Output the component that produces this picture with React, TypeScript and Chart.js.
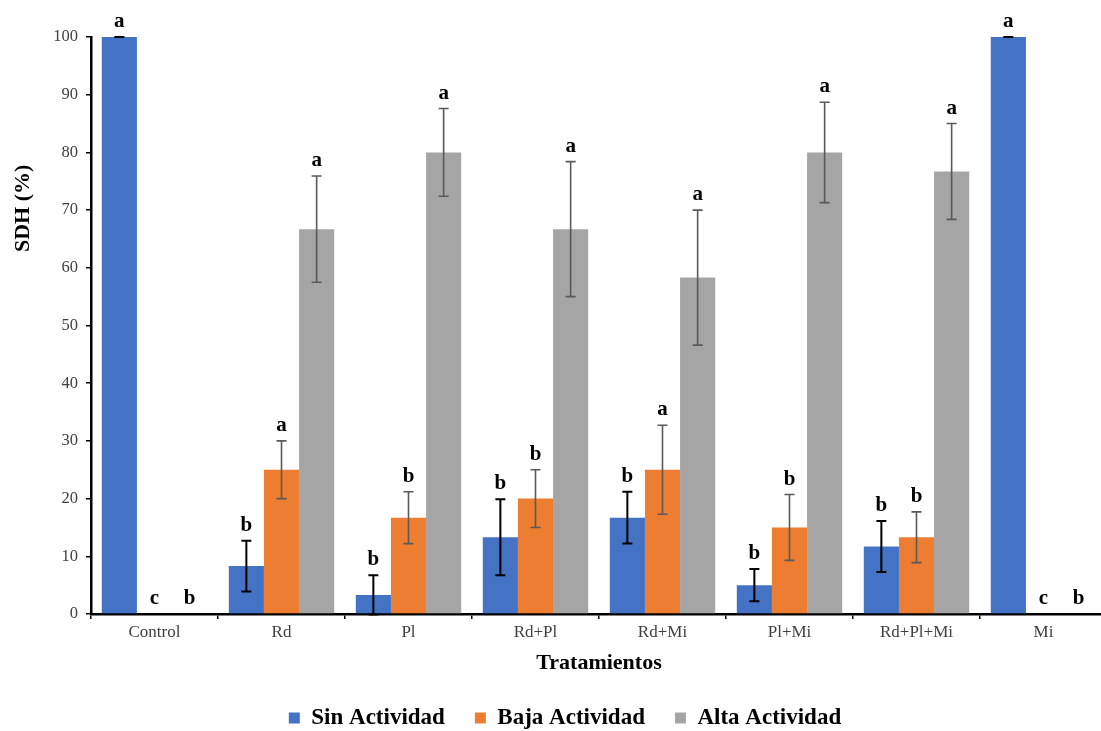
import React, { useEffect, useRef } from "react";
import { Chart, registerables } from "chart.js";

Chart.register(...registerables);

const categories = ["Control", "Rd", "Pl", "Rd+Pl", "Rd+Mi", "Pl+Mi", "Rd+Pl+Mi", "Mi"];
const seriesNames = ["Sin Actividad", "Baja Actividad", "Alta Actividad"];
const sinActividad = [100, 8.3, 3.3, 13.3, 16.7, 5.0, 11.7, 100];
const bajaActividad = [0, 25.0, 16.7, 20.0, 25.0, 15.0, 13.3, 0];
const altaActividad = [0, 66.7, 80.0, 66.7, 58.3, 80.0, 76.7, 0];
const sinError = [0, 4.4, 3.4, 6.6, 4.5, 2.8, 4.4, 0];
const bajaError = [null, 5.0, 4.5, 5.0, 7.7, 5.7, 4.4, null];
const altaError = [null, 9.2, 7.6, 11.7, 11.7, 8.7, 8.3, null];
const sinLetters = ["a", "b", "b", "b", "b", "b", "b", "a"];
const bajaLetters = ["c", "a", "b", "b", "a", "b", "b", "c"];
const altaLetters = ["b", "a", "a", "a", "a", "a", "a", "b"];
const yMin = 0;
const yMax = 100;
const yStep = 10;
const yTitle = "SDH (%)";
const xTitle = "Tratamientos";

const colors = ["#4472C4", "#ED7D31", "#A5A5A5"];
const errColors = ["#000000", "#595959", "#595959"];
const FONT = "'Liberation Serif', 'Times New Roman', serif";

const errorsBySeries = [sinError, bajaError, altaError];
const lettersBySeries = [sinLetters, bajaLetters, altaLetters];

const errorBarPlugin = {
  id: "errorBars",
  afterDatasetsDraw(chart: any) {
    const { ctx } = chart;
    const yScale = chart.scales.y;
    chart.data.datasets.forEach((ds: any, d: number) => {
      const meta = chart.getDatasetMeta(d);
      const errs = errorsBySeries[d];
      const letters = lettersBySeries[d];
      meta.data.forEach((bar: any, i: number) => {
        const v = ds.data[i] as number;
        const e = errs[i];
        let topY = yScale.getPixelForValue(v);
        if (e !== null && e !== undefined) {
          const yTop = yScale.getPixelForValue(v + e);
          const yBot = yScale.getPixelForValue(v - e);
          topY = yTop;
          ctx.save();
          ctx.strokeStyle = errColors[d];
          ctx.lineWidth = d === 0 ? 2 : 1.6;
          ctx.beginPath();
          ctx.moveTo(bar.x, yTop);
          ctx.lineTo(bar.x, yBot);
          ctx.moveTo(bar.x - 5, yTop);
          ctx.lineTo(bar.x + 5, yTop);
          ctx.moveTo(bar.x - 5, yBot);
          ctx.lineTo(bar.x + 5, yBot);
          ctx.stroke();
          ctx.restore();
        }
        const letter = letters[i];
        if (letter) {
          ctx.save();
          ctx.fillStyle = "#000";
          ctx.font = `bold 21px ${FONT}`;
          ctx.textAlign = "center";
          ctx.textBaseline = "alphabetic";
          ctx.fillText(letter, bar.x, topY - 10);
          ctx.restore();
        }
      });
    });
  },
};

const yTitlePlugin = {
  id: "yTitleText",
  afterDraw(chart: any) {
    const { ctx, chartArea } = chart;
    const cy = chartArea.top + (chartArea.bottom - chartArea.top) * 0.297;
    ctx.save();
    ctx.translate(23, cy);
    ctx.rotate(-Math.PI / 2);
    ctx.fillStyle = "#000";
    ctx.font = `bold 22px ${FONT}`;
    ctx.textAlign = "center";
    ctx.textBaseline = "middle";
    ctx.fillText(yTitle, 0, 0);
    ctx.restore();
  },
};

export default function App() {
  const ref = useRef<HTMLCanvasElement | null>(null);

  useEffect(() => {
    if (!ref.current) return;
    const values = [sinActividad, bajaActividad, altaActividad];
    const chart = new Chart(ref.current, {
      type: "bar",
      data: {
        labels: categories,
        datasets: seriesNames.map((name, k) => ({
          label: name,
          data: values[k],
          backgroundColor: colors[k],
          borderWidth: 0,
          categoryPercentage: 0.83,
          barPercentage: 1.0,
        })),
      },
      options: {
        responsive: false,
        animation: false,
        layout: { padding: { left: 23, right: 1, top: 37, bottom: -8.5 } },
        plugins: {
          tooltip: { enabled: false },
          legend: {
            position: "bottom",
            labels: {
              boxWidth: 11,
              boxHeight: 11,
              padding: 30,
              color: "#000",
              font: { family: FONT, size: 23, weight: "bold" },
            },
          },
        },
        scales: {
          x: {
            offset: true,
            afterFit(scale: any) {
              scale.height = 62.5;
            },
            grid: {
              display: true,
              offset: true,
              drawOnChartArea: false,
              drawTicks: true,
              tickLength: 5,
              color: "#000",
              lineWidth: 1.5,
            },
            border: { display: true, color: "#000", width: 2.5 },
            ticks: {
              color: "#404040",
              padding: 3,
              font: { family: FONT, size: 17 },
              maxRotation: 0,
            },
            title: {
              display: true,
              text: xTitle,
              color: "#000",
              font: { family: FONT, size: 22, weight: "bold" },
              padding: { top: 0, bottom: 0 },
            },
          },
          y: {
            min: yMin,
            max: yMax,
            afterFit(scale: any) {
              scale.width = 68;
            },
            ticks: {
              stepSize: yStep,
              color: "#404040",
              padding: 8,
              font: { family: FONT, size: 16.5 },
            },
            grid: {
              display: true,
              drawOnChartArea: false,
              drawTicks: true,
              tickLength: 5,
              color: "#000",
              lineWidth: 1.5,
            },
            border: { display: true, color: "#000", width: 2.5 },
            title: { display: false },
          },
        },
      },
      plugins: [errorBarPlugin, yTitlePlugin],
    });
    return () => chart.destroy();
  }, []);

  return (
    <div
      style={{
        position: "absolute",
        left: 0,
        top: 0,
        width: 1101,
        height: 731,
        overflow: "hidden",
        background: "#fff",
      }}
    >
      <canvas ref={ref} width={1108} height={731} style={{ display: "block" }} />
    </div>
  );
}
